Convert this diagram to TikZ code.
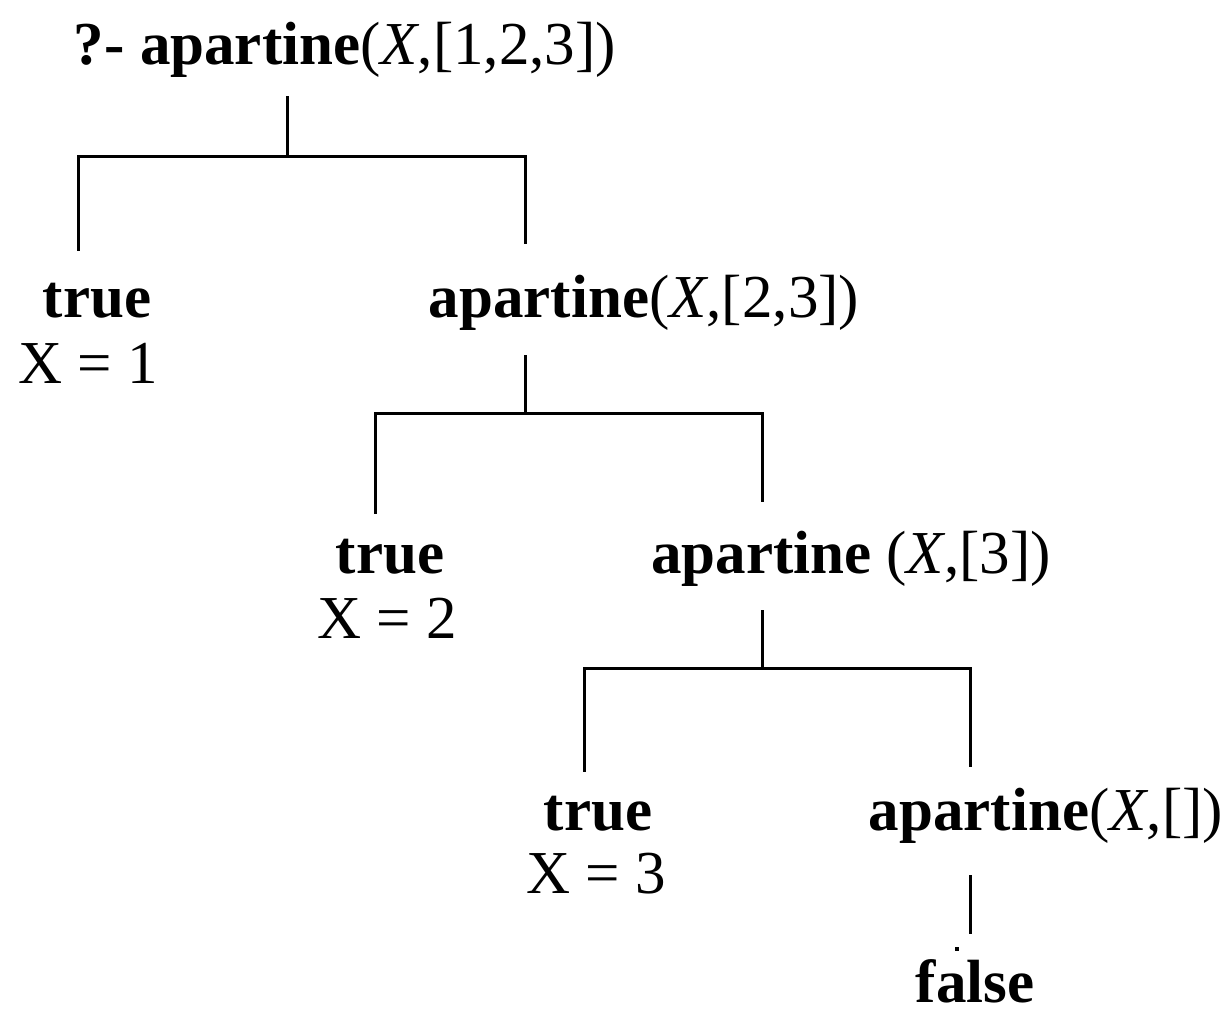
\documentclass[tikz,border=0pt]{standalone}
\usepackage{fontspec}
\setmainfont{Liberation Serif}
\begin{document}
\begin{tikzpicture}[x=1pt,y=-1pt,
  lbl/.style={anchor=base,inner sep=0pt,font=\fontsize{61}{61}\selectfont\bfseries},
  edge/.style={line width=3pt,line cap=rect}]
\useasboundingbox (0,0) rectangle (1229,1016);
\newcommand{\args}[1]{\textmd{(\textit{X},#1)}}
% goals and answers
\node[lbl] (g0) at (345,65) {?- apartine\args{[1,2,3]}};
\node[lbl] (t1) at (97,318) {true};
\node[lbl] (x1) at (88,383) {\textmd{X = 1}};
\node[lbl] (g1) at (644,318) {apartine\args{[2,3]}};
\node[lbl] (t2) at (390,573) {true};
\node[lbl] (x2) at (387,638) {\textmd{X = 2}};
\node[lbl] (g2) at (851,573) {apartine \args{[3]}};
\node[lbl] (t3) at (598,830) {true};
\node[lbl] (x3) at (596,893) {\textmd{X = 3}};
\node[lbl] (g3) at (1046,830) {apartine\args{[]}};
\node[lbl] (f) at (975,1002) {false};
% branch points
\coordinate (s0) at (287,98);
\coordinate (s1) at (525,356);
\coordinate (s2) at (762,611);
\coordinate (s3) at (970,876);
\coordinate (e1) at (78,250);
\coordinate (e2) at (375,512);
\coordinate (e3) at (584,770);
\coordinate (e4) at (970,932);
% tree edges
\draw[edge] (s0) -- ++(0,59) -| (e1);
\draw[edge] (s0) ++(0,59) -| (525,243);
\draw[edge] (s1) -- ++(0,57) -| (e2);
\draw[edge] (s1) ++(0,57) -| (762,500);
\draw[edge] (s2) -- ++(0,57) -| (e3);
\draw[edge] (s2) ++(0,57) -| (970,765);
\draw[edge] (s3) -- (e4);
\fill (955,947) rectangle ++(4,4);
\end{tikzpicture}
\end{document}
